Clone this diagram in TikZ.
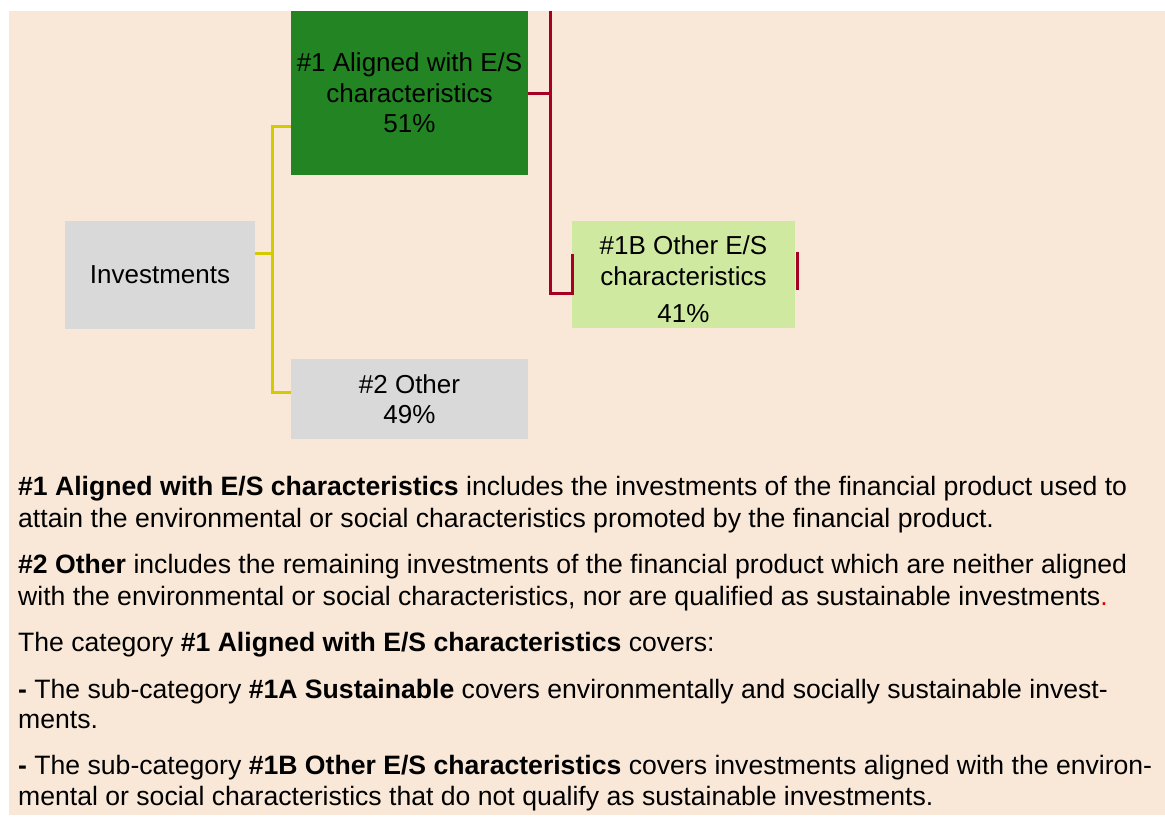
\documentclass[tikz,border=0pt]{standalone}
\usepackage{fontspec}
\setmainfont{Liberation Sans}
\definecolor{peach}{RGB}{249,232,216}
\definecolor{dgreen}{RGB}{34,132,34}
\definecolor{lgreen}{RGB}{208,233,160}
\definecolor{boxgray}{RGB}{217,217,217}
\definecolor{ylw}{RGB}{212,202,0}
\definecolor{rdl}{RGB}{165,0,33}
\definecolor{dotred}{RGB}{220,0,0}
\begin{document}
\begin{tikzpicture}[x=1pt,y=-1pt,
  box/.style={rectangle, inner sep=0pt, align=center, font=\fontsize{26}{30.5}\selectfont, text=black},
  para/.style={anchor=base west, inner sep=0pt, font=\fontsize{26.6}{30.5}\selectfont},
  yconn/.style={draw=ylw, line width=3pt},
  rconn/.style={draw=rdl, line width=3pt}]
\useasboundingbox (0,0) rectangle (1165,823);
\fill[peach] (9,11) rectangle (1165,815);

% boxes
\node[box, fill=dgreen, minimum width=237pt, minimum height=164pt] (aligned) at (409.5,93) {\#1 Aligned with E/S\\characteristics\\51\%};
\node[box, fill=lgreen, minimum width=223pt, minimum height=107pt] (other1b) at (683.5,274.5) {\rule{0pt}{28.4pt}\#1B Other E/S\\characteristics\\[6.5pt]41\%};
\node[box, fill=boxgray, minimum width=190pt, minimum height=108pt] (inv) at (160,275) {Investments};
\node[box, fill=boxgray, minimum width=237pt, minimum height=80pt] (other) at (409.5,399) {\#2 Other\\49\%};

% yellow connectors
\coordinate (yj) at (272,253);
\draw[yconn] ([yshift=22pt]inv.east) -- (yj);
\draw[yconn] (yj) |- ([yshift=-33pt]aligned.west);
\draw[yconn] (yj) |- ([yshift=7pt]other.west);

% red connectors
\coordinate (rtop) at (550,11);
\coordinate (rbot) at (550,293);
\draw[rconn] (aligned.east) -- (aligned.east -| rtop);
\draw[rconn] (rtop) -- (rbot) -| ([xshift=1pt,yshift=20.5pt]other1b.west);
\draw[rconn] ([xshift=2pt,yshift=22.5pt]other1b.east) -- ([xshift=2pt,yshift=-15.5pt]other1b.east);

% explanatory text
\node[para] (p1a) at (18,495) {\textbf{\#1 Aligned with E/S characteristics} includes the investments of the financial product used to};
\node[para] (p1b) at (18,527) {attain the environmental or social characteristics promoted by the financial product.};
\node[para] (p2a) at (18,573) {\textbf{\#2 Other} includes the remaining investments of the financial product which are neither aligned};
\node[para] (p2b) at (18,605) {with the environmental or social characteristics, nor are qualified as sustainable investments{\color{dotred}.}};
\node[para] (p3) at (18,651) {The category \textbf{\#1 Aligned with E/S characteristics} covers:};
\node[para] (p4a) at (18,698) {\textbf{-} The sub-category \textbf{\#1A Sustainable} covers environmentally and socially sustainable invest-};
\node[para] (p4b) at (18,728) {ments.};
\node[para] (p5a) at (18,774) {\textbf{-} The sub-category \textbf{\#1B Other E/S characteristics} covers investments aligned with the environ-};
\node[para] (p5b) at (18,805) {mental or social characteristics that do not qualify as sustainable investments.};
\end{tikzpicture}
\end{document}
